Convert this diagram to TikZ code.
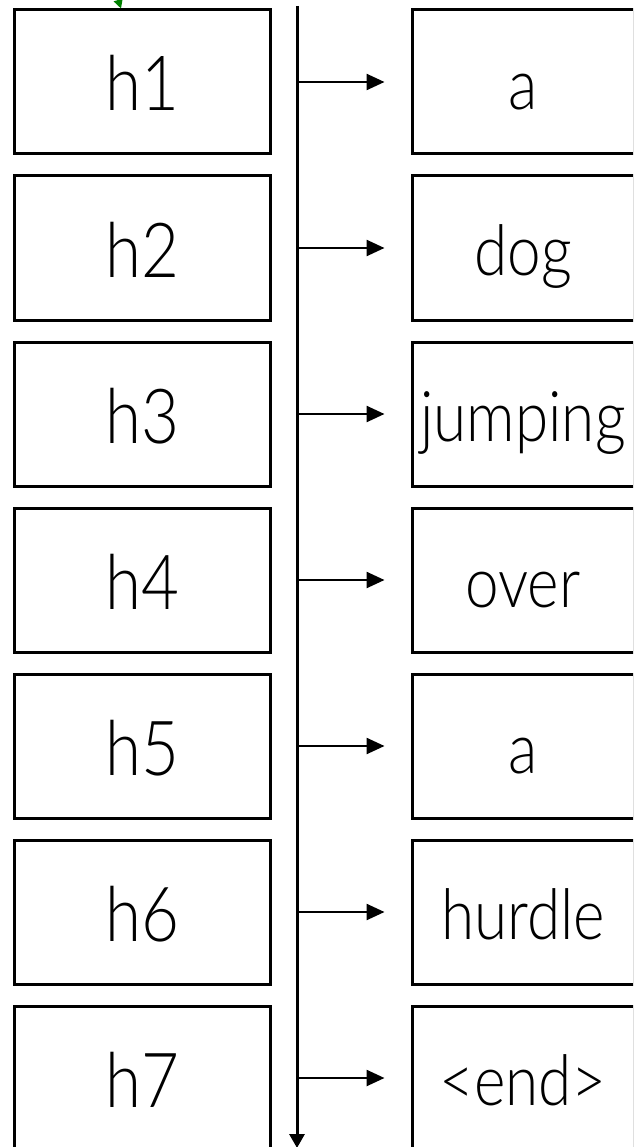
\documentclass[tikz,border=0pt]{standalone}
\usepackage{fontspec}
\newfontfamily\lt{Lato Light}
\usetikzlibrary{arrows.meta}
\newcommand{\sq}[1]{\scalebox{0.86}[1]{#1}}
\tikzset{
  hbox/.style={draw=black, line width=3pt, minimum width=256pt, minimum height=144pt, inner sep=0pt,
    font=\lt\fontsize{76}{80}\selectfont, text height=58pt, text depth=0pt},
  wbox/.style={draw=black, line width=3pt, minimum width=222pt, minimum height=144pt, inner sep=0pt,
    font=\lt\fontsize{70}{72}\selectfont, text height=55pt, text depth=0pt},
  spine/.style={line width=3pt, -{Triangle[length=14pt,width=15pt]}},
  feed/.style={line width=2.5pt, -{Triangle[length=18pt,width=16pt]}, shorten >=26pt},
  greenarr/.style={draw=green!50!black, line width=2pt, -{Triangle[length=9pt,width=9pt]}}
}
\begin{document}
\begin{tikzpicture}[x=1pt,y=-1pt]
\useasboundingbox (0,0) rectangle (633,1147);
\clip (0,0) rectangle (633,1147);
\fill[white] (0,0) rectangle (633,1147);
\foreach \i/\w in {1/a,2/dog,3/jumping,4/over,5/a,6/hurdle,7/{<end>}}{
  \node[hbox] (h\i) at (142,{82+166*(\i-1)}) {\sq{h\i}};
  \node[wbox] (w\i) at (523,{82+166*(\i-1)}) {\sq{\w}};
  \coordinate (s\i) at (297,{82+166*(\i-1)});
  \draw[feed] (s\i) -- (w\i);
}
\coordinate (top) at (297,6);
\coordinate (bot) at (297,1148);
\draw[spine] (top) -- (bot);
\coordinate (gsrc) at (110,-25);
\draw[greenarr] (gsrc) -- (h1.north -| 121,0);
\end{tikzpicture}
\end{document}
